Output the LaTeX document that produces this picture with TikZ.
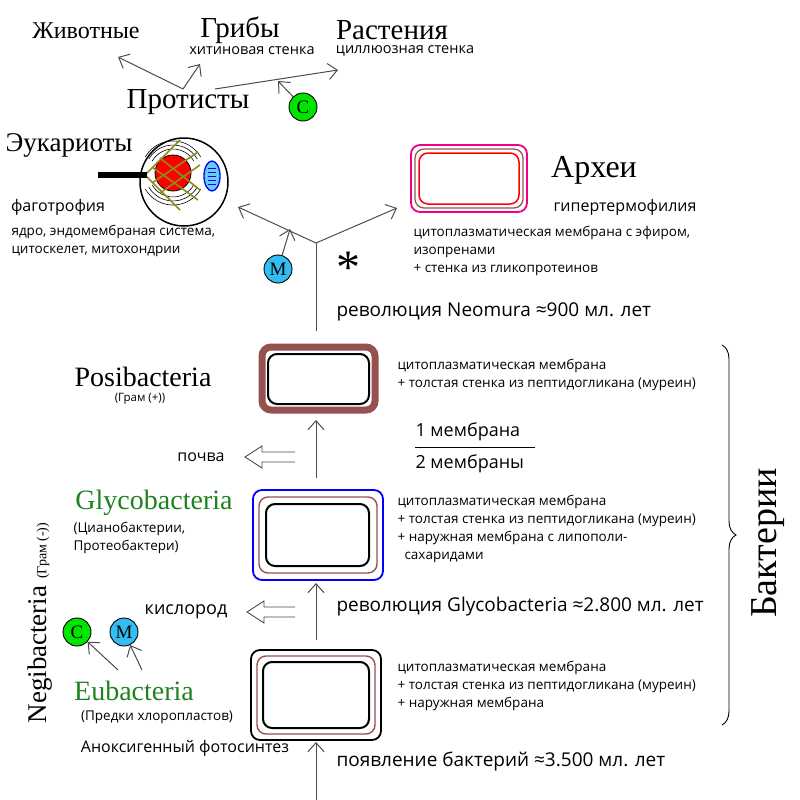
\documentclass[tikz,border=0pt]{standalone}
\usepackage{fontspec}
\setmainfont{Liberation Serif}
\newfontfamily\sans{Open Sans}
\usetikzlibrary{arrows.meta,decorations.pathreplacing}
\definecolor{wall}{RGB}{150,80,80}
\definecolor{olivel}{RGB}{140,140,30}
\definecolor{dgreen}{RGB}{30,130,30}
\begin{document}
\begin{tikzpicture}[x=1pt,y=-1pt,
  big/.style={font=\fontsize{29}{31}\selectfont},
  mid/.style={font=\fontsize{28}{30}\selectfont},
  sm/.style={font=\sans\fontsize{13.5}{18}\selectfont},
  tl/.style={font=\sans\fontsize{14.5}{16}\selectfont},
  smb/.style={font=\sans\fontsize{16}{18}\selectfont},
  rev/.style={font=\sans\fontsize{19}{21}\selectfont,anchor=west},
  ar/.style={draw=black!70,line width=1pt,-{Straight Barb[length=9pt,width=16pt]}},
  circ/.style={circle,draw,line width=0.9pt,minimum size=28pt,inner sep=0pt,font=\fontsize{19}{19}\selectfont},
  box/.style={rounded corners=9pt}]
\useasboundingbox (0,0) rectangle (800,800);
% top
\node[font=\fontsize{24}{26}\selectfont] (anim) at (86,31) {Животные};
\node[big] (fungi) at (240,30) {Грибы};
\node[tl] at (252,51) {хитиновая стенка};
\node[big] (plant) at (392,30) {Растения};
\node[tl] at (405,51) {циллюозная стенка};
\node[big] (prot) at (188,102) {Протисты};
\coordinate (pj) at (183,89);
\coordinate (pa) at (118,57);
\coordinate (pf) at (200,64);
\coordinate (ps) at (215,89);
\coordinate (pp) at (338,70);
\coordinate (pc) at (278,81);
\draw[ar] (pj) -- (pa);
\draw[ar] (pj) -- (pf);
\draw[ar] (ps) -- (pp);
\node[circ,fill=green!90!black] (C1) at (303,107) {C};
\draw[ar] (C1) -- (pc);
% eukaryote
\node[font=\fontsize{27}{29}\selectfont,anchor=west] (euk) at (2,145) {Эукариоты};
\draw[line width=1.5pt,fill=white] (184,182) circle (44);
\foreach \r in {24,28,32}{
 \draw[line width=0.6pt] (173,173) ++(30:\r) arc (30:150:\r);
 \draw[line width=0.6pt] (173,173) ++(210:\r) arc (210:330:\r);}
\fill[red] (173,173) circle (18);
\draw[line width=0.8pt] (173,173) circle (18);
\draw[blue,line width=1.3pt,fill=cyan!60] (212,176) ellipse (8 and 15);
\foreach \yy in {168,172,176,180,184} \draw[blue,line width=0.6pt] (208,\yy) -- (216,\yy);
\draw[olivel,line width=1.6pt] (145,175) -- (180,140) (145,175) -- (180,210)
  (152,167) -- (198,200) (160,158) -- (200,190) (152,183) -- (198,152) (160,193) -- (200,165);
\draw[line width=6pt] (98,175) -- (147,175);
\node[smb] at (58,207) {фаготрофия};
\node[sm,align=left,anchor=west] at (8,241) {ядро, эндомембраная система,\\цитоскелет, митохондрии};
% Y junction
\coordinate (yj) at (316,243);
\coordinate (ye) at (238,207);
\coordinate (ya) at (397,208);
\coordinate (yb) at (316,331);
\coordinate (ym) at (290,229);
\draw[ar] (yj) -- (ye);
\draw[ar] (yj) -- (ya);
\draw[draw=black!70,line width=1pt] (yb) -- (yj);
\node[circ,fill=cyan!80] (M1) at (278,269) {M};
\draw[ar] (M1) -- (ym);
\node[font=\fontsize{48}{48}\selectfont] at (348,268) {*};
% archaea
\draw[magenta,line width=1.8pt,box] (411,145) rectangle (527,212);
\draw[wall,line width=1.2pt,box] (415,149) rectangle (523,208);
\draw[red,line width=1.5pt,box] (419,153) rectangle (519,204);
\node[font=\fontsize{32}{34}\selectfont] (arch) at (594,170) {Археи};
\node[smb] at (625,207) {гипертермофилия};
\node[sm,align=left,anchor=west] at (410,251) {цитоплазматическая мембрана с эфиром,\\изопренами\\+ стенка из гликопротеинов};
\node[rev] at (333,312) {революция Neomura ≈900 мл. лет};
% posibacteria
\draw[wall,line width=7pt,box] (262,347) rectangle (375,410);
\draw[line width=2pt,box] (268,354) rectangle (369,404);
\node[mid] (posi) at (143,377) {Posibacteria};
\node[sm,font=\sans\fontsize{11.5}{12}\selectfont] at (140,399) {(Грам (+))};
\node[sm,align=left,anchor=west] at (394,375) {цитоплазматическая мембрана\\+ толстая стенка из пептидогликана (муреин)};
\coordinate (g1) at (316,478);
\coordinate (p1) at (316,420);
\draw[ar] (g1) -- (p1);
\node[rev,font=\sans\fontsize{18}{20}\selectfont] (m1) at (412,432) {1 мембрана};
\draw[line width=1pt] (415,447) -- (535,447);
\node[rev,font=\sans\fontsize{18}{20}\selectfont] (m2) at (412,464) {2 мембраны};
\node[smb] (soil) at (201,457) {почва};
\draw[draw=black!70,line width=0.9pt,fill=white] (295,452) -- (262,452) -- (262,446) -- (245,457) -- (262,468) -- (262,462) -- (295,462);
% glycobacteria
\draw[blue,line width=1.8pt,box] (253,490) rectangle (383,580);
\draw[wall,line width=1.4pt,box] (259,497) rectangle (377,573);
\draw[line width=2pt,box] (266,504) rectangle (369,566);
\node[mid,text=dgreen] (gly) at (154,503) {Glycobacteria};
\node[sm,align=left,anchor=west] at (70,538) {(Цианобактерии,\\Протеобактери)};
\node[sm,align=left,anchor=west] at (394,529) {цитоплазматическая мембрана\\+ толстая стенка из пептидогликана (муреин)\\+ наружная мембрана с липополи-\\\ \ сахаридами};
\coordinate (e1) at (316,640);
\coordinate (q1) at (316,583);
\draw[ar] (e1) -- (q1);
\node[smb,font=\sans\fontsize{18}{20}\selectfont] (oxy) at (186,612) {кислород};
\draw[draw=black!70,line width=0.9pt,fill=white] (295,607) -- (264,607) -- (264,601) -- (247,612) -- (264,623) -- (264,617) -- (295,617);
\node[rev] at (333,607) {революция Glycobacteria ≈2.800 мл. лет};
% eubacteria
\draw[line width=1.8pt,box] (251,650) rectangle (381,740);
\draw[wall,line width=1.4pt,box] (257,656) rectangle (375,734);
\draw[line width=2pt,box] (263,662) rectangle (369,728);
\node[mid,text=dgreen] (eub) at (134,691) {Eubacteria};
\node[sm] at (157,717) {(Предки хлоропластов)};
\node[sm,align=left,anchor=west] at (394,686) {цитоплазматическая мембрана\\+ толстая стенка из пептидогликана (муреин)\\+ наружная мембрана};
\node[circ,fill=green!90!black] (C2) at (77,632) {C};
\node[circ,fill=cyan!80] (M2) at (124,632) {M};
\coordinate (eu1) at (118,670);
\coordinate (eu2) at (142,670);
\draw[ar] (eu1) -- (C2);
\draw[ar] (eu2) -- (M2);
\node[smb] at (185,748) {Аноксигенный фотосинтез};
\coordinate (b0) at (316,800);
\coordinate (b1) at (316,742);
\draw[ar] (b0) -- (b1);
\node[rev] at (333,761) {появление бактерий ≈3.500 мл. лет};
% side labels
\node[rotate=90,anchor=west,font=\fontsize{27}{28}\selectfont] at (40,727) {Negibacteria \fontsize{14}{14}\selectfont (Грам (-))};
\draw[line width=0.9pt,decorate,decoration={brace,amplitude=14pt}] (722,345) -- (722,725);
\node[rotate=90,font=\fontsize{38}{40}\selectfont] at (768,543) {Бактерии};
\end{tikzpicture}
\end{document}
